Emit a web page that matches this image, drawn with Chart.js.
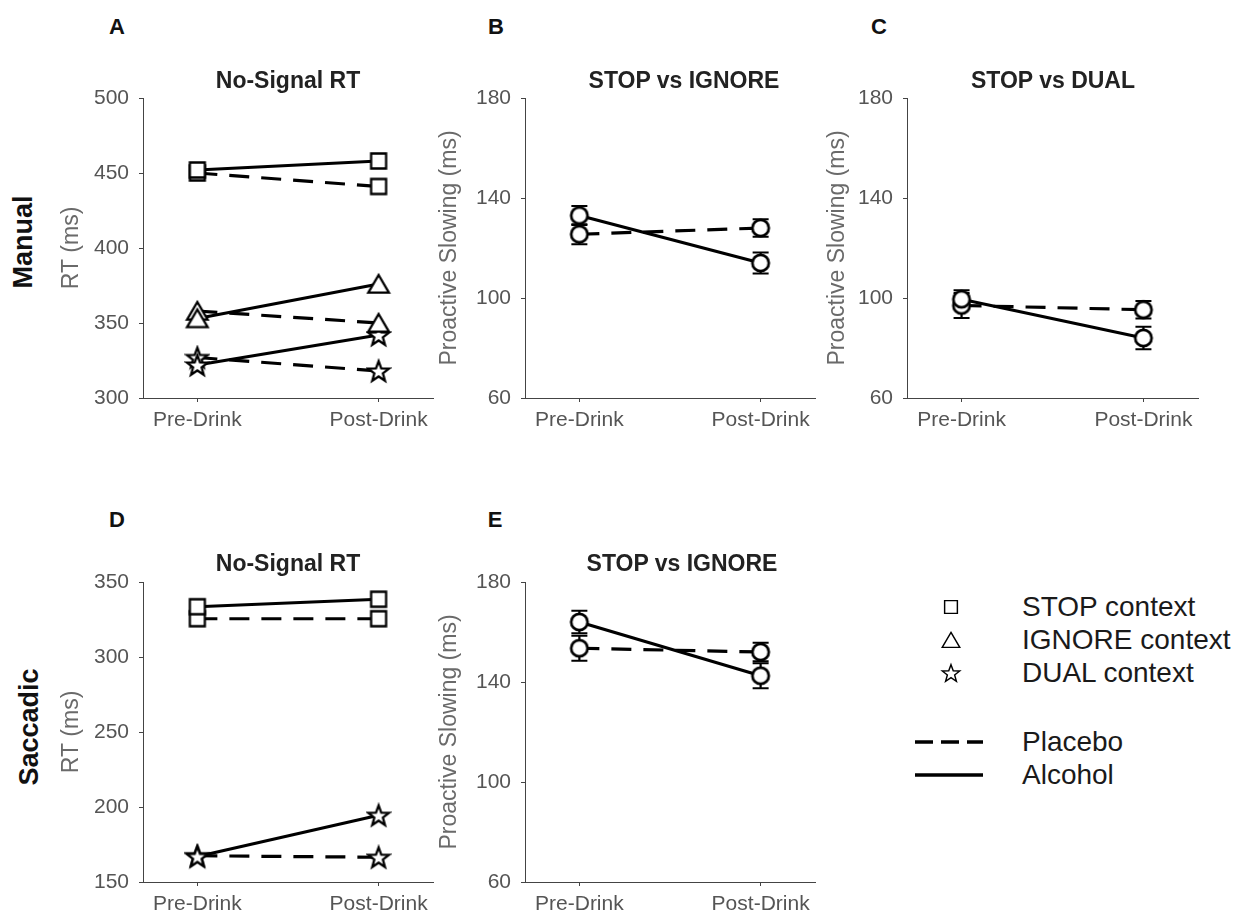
<!DOCTYPE html>
<html lang="en">
<head>
<meta charset="UTF-8">
<title>No-Signal RT and Proactive Slowing</title>
<script src="https://cdn.jsdelivr.net/npm/chart.js@4"></script>
<style>
    body {
        margin: 0;
        background: #fff;
        font-family: 'Liberation Sans', Arial, sans-serif;
    }

    .figure {
        position: relative;
        width: 1239px;
        height: 919px;
        overflow: hidden;
    }

    .figure canvas {
        position: absolute;
    }

    .label {
        position: absolute;
        transform: translate(-50%, -50%);
        white-space: nowrap;
        line-height: 1;
    }

    .letter {
        font-weight: bold;
        font-size: 22px;
        color: #111;
    }

    .title {
        font-weight: bold;
        font-size: 23px;
        color: #222;
    }

    .row {
        font-weight: bold;
        font-size: 27px;
        color: #111;
        transform: translate(-50%, -50%) rotate(-90deg);
    }

    .legend-text {
        position: absolute;
        left: 1022px;
        transform: translateY(-50%);
        font-size: 28px;
        line-height: 1;
        color: #1a1a1a;
        white-space: nowrap;
    }
</style>
</head>
<body>
<div class="figure" id="figure">
    <canvas id="panelA"></canvas>
    <canvas id="panelB"></canvas>
    <canvas id="panelC"></canvas>
    <canvas id="panelD"></canvas>
    <canvas id="panelE"></canvas>

    <div class="label letter" style="left:117px; top:27px;">A</div>
    <div class="label letter" style="left:496px; top:27px;">B</div>
    <div class="label letter" style="left:879px; top:27px;">C</div>
    <div class="label letter" style="left:117px; top:520px;">D</div>
    <div class="label letter" style="left:495px; top:520px;">E</div>

    <div class="label title" style="left:288px; top:80px;">No-Signal RT</div>
    <div class="label title" style="left:684px; top:80px;">STOP vs IGNORE</div>
    <div class="label title" style="left:1053px; top:80px;">STOP vs DUAL</div>
    <div class="label title" style="left:288px; top:563px;">No-Signal RT</div>
    <div class="label title" style="left:682px; top:563px;">STOP vs IGNORE</div>

    <div class="label row" style="left:23px; top:242px;">Manual</div>
    <div class="label row" style="left:29px; top:727px;">Saccadic</div>

    <div class="legend-text" style="top:607px;">STOP context</div>
    <div class="legend-text" style="top:640px;">IGNORE context</div>
    <div class="legend-text" style="top:673px;">DUAL context</div>
    <div class="legend-text" style="top:742px;">Placebo</div>
    <div class="legend-text" style="top:775px;">Alcohol</div>
</div>

<script>
    // x categories
    const xLabels = ['Pre-Drink', 'Post-Drink'];
    const xPos = [1, 2];

    // A - Manual, no-signal RT (ms)
    const aStopPlacebo = [450, 441];
    const aStopAlcohol = [452, 458];
    const aIgnorePlacebo = [358, 350];
    const aIgnoreAlcohol = [353, 376];
    const aDualPlacebo = [327, 318];
    const aDualAlcohol = [322, 342];

    // B - Manual, proactive slowing STOP vs IGNORE (ms) and SEM
    const bPlacebo = [125.5, 128];
    const bPlaceboErr = [4, 3.5];
    const bAlcohol = [133, 114];
    const bAlcoholErr = [3.8, 4.2];

    // C - Manual, proactive slowing STOP vs DUAL (ms) and SEM
    const cPlacebo = [97, 95.3];
    const cPlaceboErr = [5, 3.5];
    const cAlcohol = [99.5, 84];
    const cAlcoholErr = [3.6, 4.5];

    // D - Saccadic, no-signal RT (ms)
    const dStopPlacebo = [325.5, 325.5];
    const dStopAlcohol = [333.5, 338.5];
    const dDualPlacebo = [167.5, 166.5];
    const dDualAlcohol = [167, 194.5];

    // E - Saccadic, proactive slowing STOP vs IGNORE (ms) and SEM
    const ePlacebo = [153.5, 152];
    const ePlaceboErr = [5, 3.7];
    const eAlcohol = [164, 142.5];
    const eAlcoholErr = [4.5, 5];

    // axis ranges: [min, max, step]
    const rtRangeManual = [300, 500, 50];
    const rtRangeSaccadic = [150, 350, 50];
    const slowingRange = [60, 180, 40];

    const FONT = "'Liberation Sans', Arial, sans-serif";
    const DASH = [20, 12];

    function markerCanvas(shape, k, lw) {
        const c = document.createElement('canvas');
        c.width = 26;
        c.height = 26;
        const g = c.getContext('2d');
        g.fillStyle = '#fff';
        g.strokeStyle = '#000';
        g.lineWidth = lw;
        g.translate(13, 13);
        g.scale(k, k);
        g.beginPath();
        if (shape === 'square') {
            g.rect(-7.5, -7.5, 15, 15);
        } else if (shape === 'triangle') {
            g.moveTo(0, -9);
            g.lineTo(10.3, 8.7);
            g.lineTo(-10.3, 8.7);
            g.closePath();
        } else if (shape === 'star') {
            for (let i = 0; i < 10; i++) {
                const r = i % 2 ? 4.5 : 10.8;
                const a = -Math.PI / 2 + i * Math.PI / 5;
                g.lineTo(r * Math.cos(a), 1 + r * Math.sin(a));
            }
            g.closePath();
        } else {
            g.arc(0, 0, 8.2, 0, Math.PI * 2);
        }
        g.fill();
        g.stroke();
        return c;
    }

    // lines drawn under, markers on top
    function series(values, dashed, shape, errors) {
        const pts = values.map((v, i) => ({ x: xPos[i], y: v }));
        return [
            {
                data: pts,
                borderColor: '#000',
                borderWidth: 3.2,
                borderDash: dashed ? DASH : [],
                pointRadius: 0,
                fill: false,
                clip: false,
                order: 2,
                errors: errors
            },
            {
                data: pts,
                showLine: false,
                pointStyle: markerCanvas(shape, 1, shape === 'circle' ? 2.7 : 2.3),
                pointRadius: 8,
                clip: false,
                order: 1
            }
        ];
    }

    const errorBars = {
        id: 'errorBars',
        beforeDatasetsDraw(chart) {
            const { ctx, scales: { x, y } } = chart;
            ctx.save();
            ctx.strokeStyle = '#000';
            ctx.lineWidth = 2.2;
            chart.data.datasets.forEach(ds => {
                if (!ds.errors) return;
                ds.data.forEach((p, i) => {
                    const px = x.getPixelForValue(p.x);
                    const top = y.getPixelForValue(p.y + ds.errors[i]);
                    const bot = y.getPixelForValue(p.y - ds.errors[i]);
                    ctx.beginPath();
                    ctx.moveTo(px, top);
                    ctx.lineTo(px, bot);
                    ctx.moveTo(px - 8, top);
                    ctx.lineTo(px + 8, top);
                    ctx.moveTo(px - 8, bot);
                    ctx.lineTo(px + 8, bot);
                    ctx.stroke();
                });
            });
            ctx.restore();
        }
    };

    function makePanel(id, box, range, yTitle, datasets) {
        const canvas = document.getElementById(id);
        canvas.width = box.w;
        canvas.height = box.h;
        canvas.style.left = box.left + 'px';
        canvas.style.top = box.top + 'px';

        const axisGrid = {
            drawOnChartArea: false,
            drawTicks: true,
            tickLength: 4,
            color: '#444',
            lineWidth: 1
        };
        const axisBorder = { display: true, color: '#444', width: 1 };

        return new Chart(canvas, {
            type: 'line',
            data: { datasets: datasets },
            options: {
                responsive: false,
                animation: false,
                layout: { padding: box.pad },
                plugins: {
                    legend: { display: false },
                    tooltip: { enabled: false }
                },
                scales: {
                    x: {
                        type: 'linear',
                        min: 0.7,
                        max: 2.3,
                        afterBuildTicks: s => { s.ticks = xPos.map(v => ({ value: v })); },
                        afterFit: s => { s.height = box.xh; },
                        ticks: {
                            callback: (v, i) => xLabels[i],
                            color: '#555',
                            font: { family: FONT, size: 21 },
                            padding: 6,
                            maxRotation: 0,
                            autoSkip: false
                        },
                        grid: axisGrid,
                        border: axisBorder
                    },
                    y: {
                        min: range[0],
                        max: range[1],
                        afterFit: s => { s.width = box.yw; },
                        ticks: {
                            stepSize: range[2],
                            color: '#555',
                            font: { family: FONT, size: 21 },
                            padding: 10
                        },
                        title: {
                            display: true,
                            text: yTitle,
                            color: '#6a6a6a',
                            font: { family: FONT, size: 23 },
                            padding: 0
                        },
                        grid: axisGrid,
                        border: axisBorder
                    }
                }
            },
            plugins: [errorBars]
        });
    }

    makePanel('panelA',
        { left: 50, top: 60, w: 400, h: 380, pad: { left: 8, right: 17, top: 38, bottom: 2 }, yw: 85, xh: 40 },
        rtRangeManual, 'RT (ms)',
        [].concat(
            series(aStopAlcohol, false, 'square'),
            series(aStopPlacebo, true, 'square'),
            series(aIgnoreAlcohol, false, 'triangle'),
            series(aIgnorePlacebo, true, 'triangle'),
            series(aDualAlcohol, false, 'star'),
            series(aDualPlacebo, true, 'star')
        ));

    makePanel('panelB',
        { left: 430, top: 60, w: 400, h: 380, pad: { left: 6, right: 15, top: 38, bottom: 2 }, yw: 89, xh: 40 },
        slowingRange, 'Proactive Slowing (ms)',
        [].concat(
            series(bAlcohol, false, 'circle', bAlcoholErr),
            series(bPlacebo, true, 'circle', bPlaceboErr)
        ));

    makePanel('panelC',
        { left: 818, top: 60, w: 397, h: 380, pad: { left: 6, right: 17, top: 38, bottom: 2 }, yw: 83, xh: 40 },
        slowingRange, 'Proactive Slowing (ms)',
        [].concat(
            series(cAlcohol, false, 'circle', cAlcoholErr),
            series(cPlacebo, true, 'circle', cPlaceboErr)
        ));

    makePanel('panelD',
        { left: 50, top: 544, w: 400, h: 375, pad: { left: 8, right: 17, top: 38, bottom: 0 }, yw: 85, xh: 37 },
        rtRangeSaccadic, 'RT (ms)',
        [].concat(
            series(dStopAlcohol, false, 'square'),
            series(dStopPlacebo, true, 'square'),
            series(dDualAlcohol, false, 'star'),
            series(dDualPlacebo, true, 'star')
        ));

    makePanel('panelE',
        { left: 430, top: 544, w: 400, h: 375, pad: { left: 6, right: 15, top: 38, bottom: 0 }, yw: 89, xh: 37 },
        slowingRange, 'Proactive Slowing (ms)',
        [].concat(
            series(eAlcohol, false, 'circle', eAlcoholErr),
            series(ePlacebo, true, 'circle', ePlaceboErr)
        ));

    // legend symbols
    const figure = document.getElementById('figure');
    [['square', 607], ['triangle', 640], ['star', 673]].forEach(([shape, y]) => {
        const c = markerCanvas(shape, 0.85, 1.7);
        c.style.left = (951 - 13) + 'px';
        c.style.top = (y - 13) + 'px';
        figure.appendChild(c);
    });
    [[true, 742], [false, 775]].forEach(([dashed, y]) => {
        const c = document.createElement('canvas');
        c.width = 70;
        c.height = 10;
        const g = c.getContext('2d');
        g.strokeStyle = '#000';
        g.lineWidth = 3.5;
        if (dashed) g.setLineDash([18, 8]);
        g.beginPath();
        g.moveTo(0, 5);
        g.lineTo(68, 5);
        g.stroke();
        c.style.left = '915px';
        c.style.top = (y - 5) + 'px';
        figure.appendChild(c);
    });
</script>
</body>
</html>
